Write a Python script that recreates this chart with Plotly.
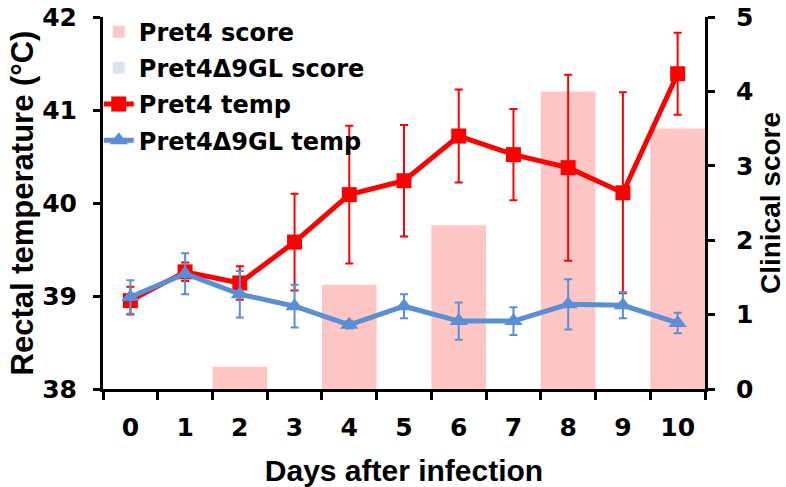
import plotly.graph_objects as go

days = ["0", "1", "2", "3", "4", "5", "6", "7", "8", "9", "10"]

pret4_score = [0, 0, 0.3, 0, 1.4, 0, 2.2, 0, 4.0, 0, 3.5]
mut_score = [0, 0, 0, 0, 0, 0, 0, 0, 0, 0, 0]

pret4_temp = [38.95, 39.26, 39.14, 39.58, 40.09, 40.24, 40.72, 40.52, 40.38, 40.11, 41.39]
pret4_err = [0.15, 0.10, 0.18, 0.52, 0.74, 0.60, 0.50, 0.49, 1.00, 1.08, 0.44]

mut_temp = [38.99, 39.24, 39.02, 38.89, 38.69, 38.89, 38.73, 38.73, 38.91, 38.90, 38.71]
mut_err = [0.18, 0.22, 0.25, 0.23, 0.04, 0.13, 0.20, 0.15, 0.27, 0.14, 0.11]

TITLE_FONT = "Liberation Sans"
TICK_FONT = "DejaVu Sans"

fig = go.Figure()

fig.add_trace(go.Bar(
    x=days, y=pret4_score, name="Pret4 score", yaxis="y",
    marker=dict(color="#ffc6c6", line=dict(width=0)), width=1.0,
    legendgroup="a",
))
fig.add_trace(go.Bar(
    x=days, y=mut_score, name="Pret4Δ9GL score", yaxis="y",
    marker=dict(color="#dbe5f1", line=dict(width=0)), width=1.0,
    legendgroup="b",
))
fig.add_trace(go.Scatter(
    x=days, y=pret4_temp, name="Pret4 temp", yaxis="y2", mode="lines+markers",
    line=dict(color="#ff0000", width=5),
    marker=dict(symbol="square", size=15, color="#ff0000"),
    error_y=dict(type="data", array=pret4_err, color="#ff0000", thickness=2, width=4),
    legendgroup="c",
))
fig.add_trace(go.Scatter(
    x=days, y=mut_temp, name="Pret4Δ9GL temp", yaxis="y2", mode="lines+markers",
    line=dict(color="#5a8fd6", width=5),
    marker=dict(symbol="triangle-up", size=16, color="#5a8fd6"),
    error_y=dict(type="data", array=mut_err, color="#5a8fd6", thickness=2, width=4),
    legendgroup="d",
))

tickfont = dict(family=TICK_FONT, size=25, color="black", weight="bold")

fig.update_layout(
    width=786, height=487,
    margin=dict(l=103, r=81, t=17, b=98, autoexpand=False),
    plot_bgcolor="white", paper_bgcolor="white",
    barmode="overlay",
    font=dict(family=TITLE_FONT, color="black"),
    xaxis=dict(
        type="category", tickson="boundaries", range=[-0.5, 10.5],
        ticks="outside", ticklen=8, tickwidth=3, tickcolor="black",
        showline=True, linecolor="black", linewidth=3,
        showgrid=False, zeroline=False, automargin=False,
        tickfont=tickfont, ticklabelstandoff=14,
        title=dict(text="Days after infection",
                   font=dict(family=TITLE_FONT, size=30, color="black", weight="bold"),
                   standoff=24),
    ),
    yaxis=dict(
        side="right", range=[0, 5], tickvals=[0, 1, 2, 3, 4, 5],
        ticks="outside", ticklen=7, tickwidth=3, tickcolor="black",
        showline=True, linecolor="black", linewidth=3,
        showgrid=False, zeroline=False, automargin=False,
        tickfont=tickfont, ticklabelstandoff=16,
        title=dict(text="Clinical score",
                   font=dict(family=TITLE_FONT, size=28, color="black", weight="bold"),
                   standoff=19),
    ),
    yaxis2=dict(
        overlaying="y", side="left", range=[38, 42], tickvals=[38, 39, 40, 41, 42],
        ticks="outside", ticklen=7, tickwidth=3, tickcolor="black",
        showline=True, linecolor="black", linewidth=3,
        showgrid=False, zeroline=False, automargin=False,
        tickfont=tickfont, ticklabelstandoff=11,
        title=dict(text="Rectal temperature (°C)",
                   font=dict(family=TITLE_FONT, size=31, color="black", weight="bold"),
                   standoff=0),
    ),
    legend=dict(
        x=-0.007, y=1.02, xanchor="left", yanchor="top",
        bgcolor="rgba(0,0,0,0)",
        font=dict(family=TICK_FONT, size=24, color="black", weight="bold"),
        tracegroupgap=2, itemwidth=30,
    ),
    showlegend=True,
)

fig.write_html("out.html")
